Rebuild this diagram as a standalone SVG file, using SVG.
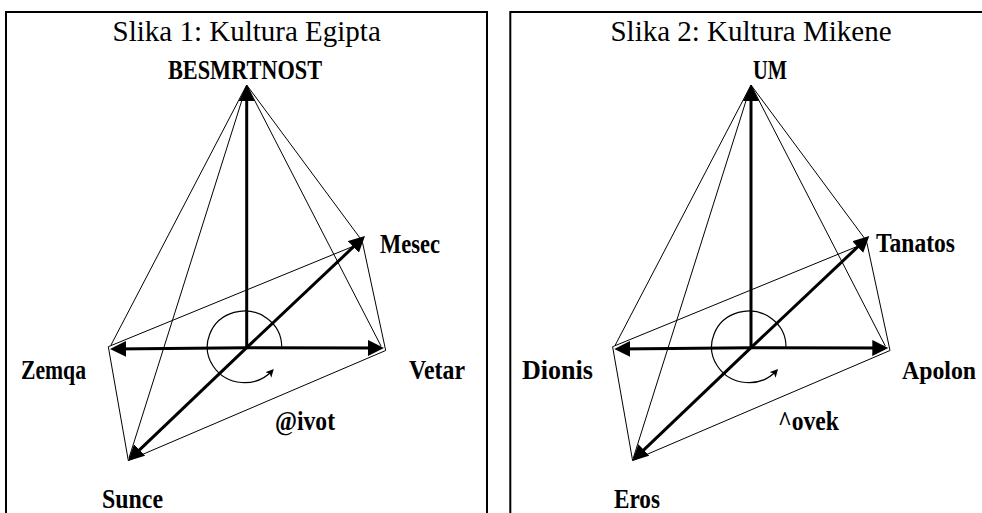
<svg xmlns="http://www.w3.org/2000/svg" width="982" height="513" viewBox="0 0 982 513">
<style>
.frame{fill:none;stroke:#000;stroke-width:2}
.title{font-family:"Liberation Serif","Times New Roman",serif;font-size:29px;fill:#000}
.lbl{font-family:"Liberation Serif","Times New Roman",serif;font-size:27px;font-weight:bold;fill:#000}
.thin{fill:none;stroke:#000;stroke-width:1}
.thick{fill:none;stroke:#000;stroke-width:3;marker-end:url(#ah)}
.rot{fill:none;stroke:#000;stroke-width:1.2;marker-end:url(#sh)}
</style>
<defs>
<marker id="ah" markerUnits="userSpaceOnUse" markerWidth="18" markerHeight="18" refX="12" refY="8" orient="auto">
<path d="M0,0 L16,8 L0,16 z" fill="#000"/>
</marker>
<marker id="sh" markerUnits="userSpaceOnUse" markerWidth="10" markerHeight="10" refX="6" refY="4" orient="auto">
<path d="M0,0 L8,4 L0,8 L2,4 z" fill="#000"/>
</marker>
<g id="diagram">
<polygon class="thin" points="108.3,346.7 362.5,242.5 385.7,350.5 128.3,460.5"/>
<line class="thin" x1="246.7" y1="85" x2="111" y2="345"/>
<line class="thin" x1="246.7" y1="85" x2="129" y2="458"/>
<line class="thin" x1="246.7" y1="85" x2="360" y2="238"/>
<line class="thin" x1="246.7" y1="85" x2="381" y2="346"/>
<line class="thick" x1="246.7" y1="347.7" x2="246.7" y2="89"/>
<line class="thick" x1="246.7" y1="347.7" x2="380" y2="348"/>
<line class="thick" x1="246.7" y1="347.7" x2="114" y2="349"/>
<line class="thick" x1="246.7" y1="347.7" x2="362.1" y2="238.7"/>
<line class="thick" x1="246.7" y1="347.7" x2="130.9" y2="458.2"/>
<path class="rot" d="M281.7,346.8 A37.2,35.8 0 1 0 272.4,370.5"/>
</g>
</defs>
<g id="panel1">
<rect class="frame" x="6" y="12" width="481" height="520"/>
<text class="title" x="246.7" y="41" text-anchor="middle">Slika 1: Kultura Egipta</text>
</g>
<g id="panel2">
<rect class="frame" x="510.3" y="12" width="481" height="520"/>
<text class="title" x="751" y="41" text-anchor="middle">Slika 2: Kultura Mikene</text>
</g>
<g id="connectors">
<use href="#diagram"/>
<use href="#diagram" transform="translate(504.3,0)"/>
</g>
<g id="node-besmrtnost"><text class="lbl" x="168" y="79" textLength="154" lengthAdjust="spacingAndGlyphs">BESMRTNOST</text></g>
<g id="node-mesec"><text class="lbl" x="380" y="253" textLength="60" lengthAdjust="spacingAndGlyphs">Mesec</text></g>
<g id="node-zemqa"><text class="lbl" x="21" y="379" textLength="65" lengthAdjust="spacingAndGlyphs">Zemqa</text></g>
<g id="node-vetar"><text class="lbl" x="409" y="379" textLength="56" lengthAdjust="spacingAndGlyphs">Vetar</text></g>
<g id="node-zivot"><text class="lbl" x="275" y="430" textLength="60" lengthAdjust="spacingAndGlyphs">@ivot</text></g>
<g id="node-sunce"><text class="lbl" x="102" y="508" textLength="61" lengthAdjust="spacingAndGlyphs">Sunce</text></g>
<g id="node-um"><text class="lbl" x="753" y="79" textLength="34" lengthAdjust="spacingAndGlyphs">UM</text></g>
<g id="node-tanatos"><text class="lbl" x="876" y="252" textLength="79" lengthAdjust="spacingAndGlyphs">Tanatos</text></g>
<g id="node-dionis"><text class="lbl" x="522" y="379" textLength="71" lengthAdjust="spacingAndGlyphs">Dionis</text></g>
<g id="node-apolon"><text class="lbl" x="902" y="379" style="font-size:25px" textLength="74" lengthAdjust="spacingAndGlyphs">Apolon</text></g>
<g id="node-covek"><text class="lbl" x="778" y="430" textLength="61" lengthAdjust="spacingAndGlyphs">^ovek</text></g>
<g id="node-eros"><text class="lbl" x="614" y="508" textLength="46" lengthAdjust="spacingAndGlyphs">Eros</text></g>
</svg>
